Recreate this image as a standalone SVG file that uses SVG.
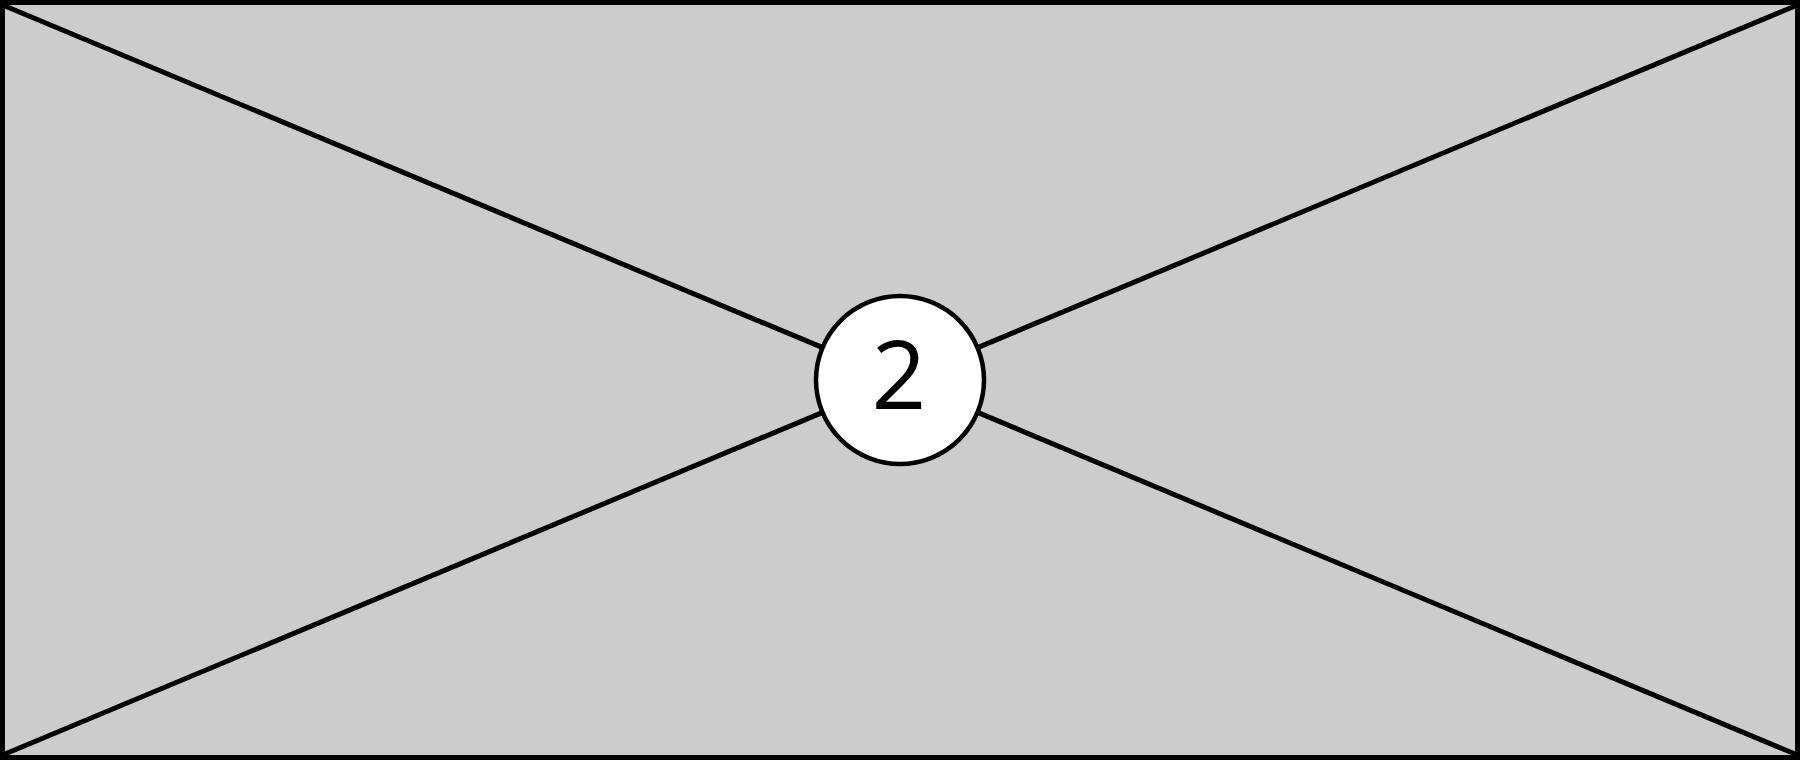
<svg xmlns="http://www.w3.org/2000/svg" width="1800" height="760" viewBox="0 0 1800 760">
<style>
.ln{stroke:#000;stroke-width:5;fill:none}
.lbl{font-family:"Open Sans","Noto Sans",sans-serif;font-size:96px;font-weight:500;fill:#000;text-anchor:middle}
</style>
<g id="frame">
<rect x="2.5" y="2.5" width="1795" height="755" fill="#cccccc" stroke="#000" stroke-width="5"/>
</g>
<g id="connectors">
<line class="ln" x1="5" y1="6" x2="1795" y2="754"/>
<line class="ln" x1="1795" y1="6" x2="5" y2="754"/>
</g>
<g id="badge">
<circle cx="900" cy="380" r="84" fill="#fff" stroke="#000" stroke-width="4.5"/>
<text class="lbl" x="899" y="409">2</text>
</g>
</svg>
